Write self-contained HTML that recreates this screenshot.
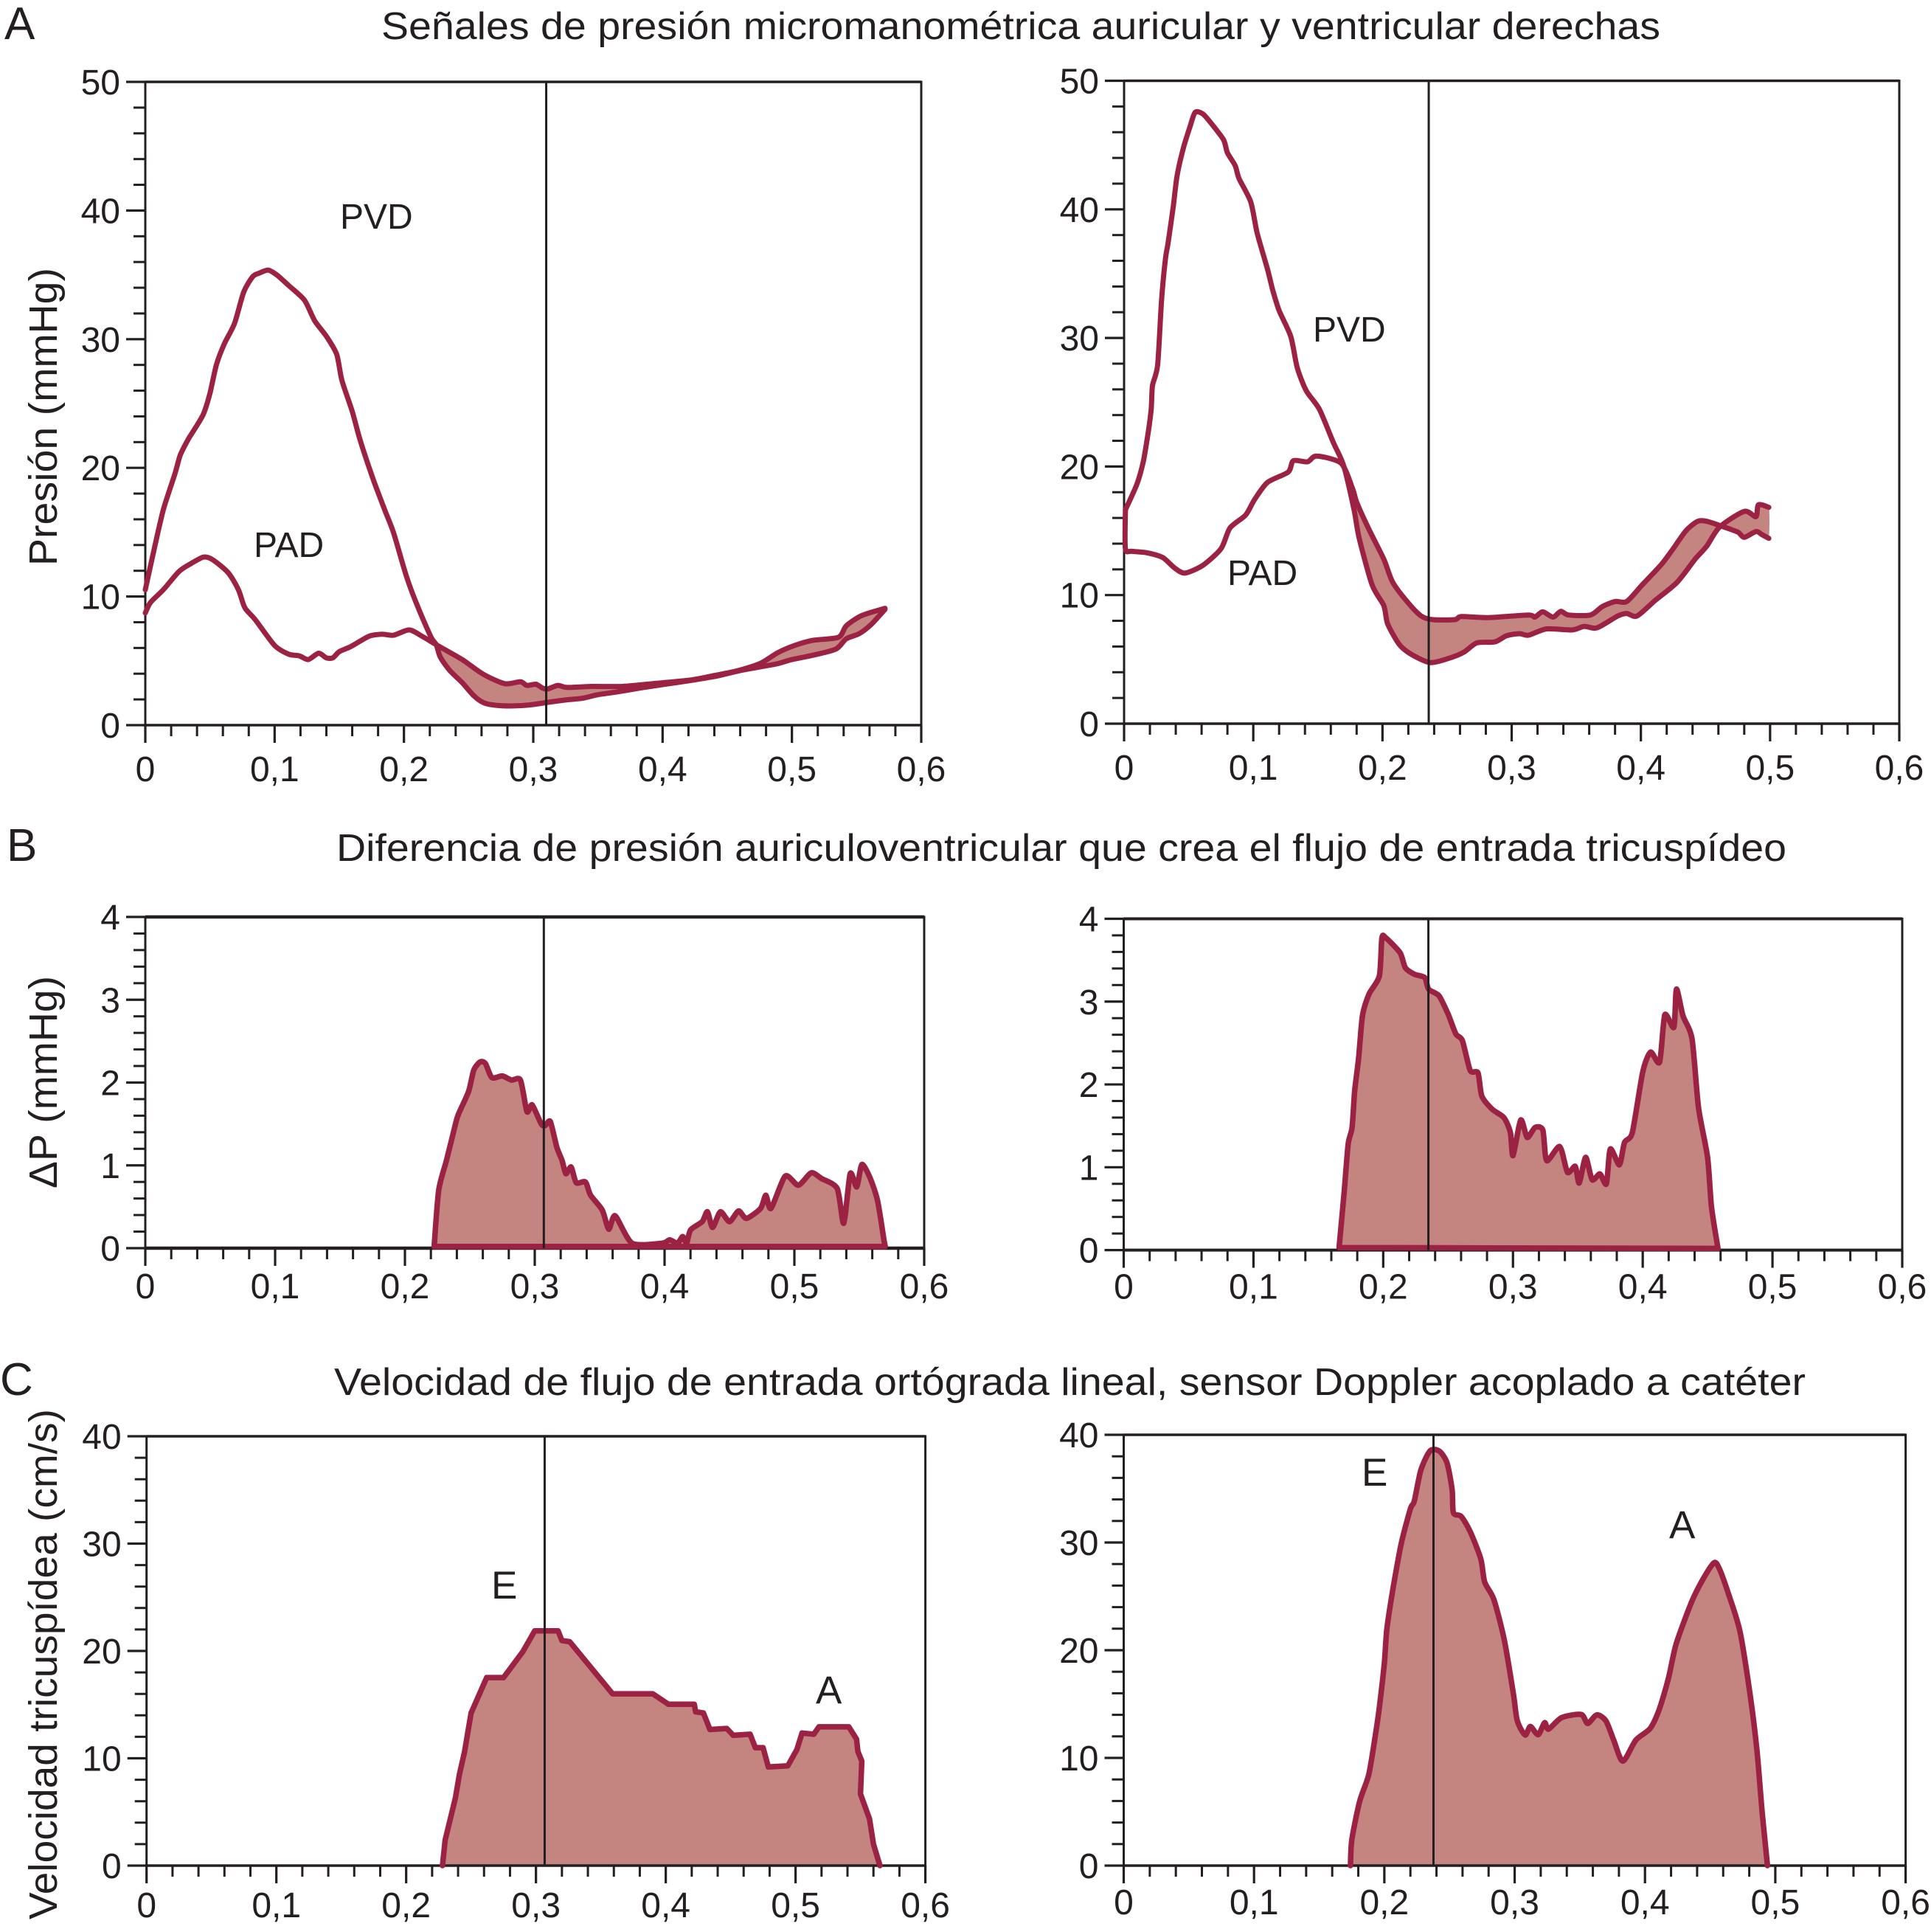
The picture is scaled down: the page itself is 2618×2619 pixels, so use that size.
<!DOCTYPE html>
<html lang="es">
<head>
<meta charset="utf-8">
<title>Señales de presión y flujo tricuspídeo</title>
<style>
html,body{margin:0;padding:0;background:#fff;}
svg{display:block;position:absolute;left:0;top:0;}
text{font-family:"Liberation Sans",Arial,sans-serif;fill:#231f20;}
</style>
</head>
<body>
<svg id="figure" xmlns="http://www.w3.org/2000/svg" width="2618" height="2619" viewBox="0 0 2618 2619">
<rect x="0" y="0" width="2618" height="2619" fill="#ffffff"/>
<g id="panels"></g>
<text x="6" y="53" font-size="62">A</text>
<text x="9" y="1167" font-size="62">B</text>
<text x="0" y="1891" font-size="62">C</text>
<text x="517" y="53" font-size="52" textLength="1734" lengthAdjust="spacingAndGlyphs">Señales de presión micromanométrica auricular y ventricular derechas</text>
<text x="456" y="1167" font-size="52" textLength="1966" lengthAdjust="spacingAndGlyphs">Diferencia de presión auriculoventricular que crea el flujo de entrada tricuspídeo</text>
<text x="453" y="1891" font-size="52" textLength="1995" lengthAdjust="spacingAndGlyphs">Velocidad de flujo de entrada ortógrada lineal, sensor Doppler acoplado a catéter</text>
<text transform="translate(77,565) rotate(-90)" text-anchor="middle" font-size="54" textLength="404" lengthAdjust="spacingAndGlyphs">Presión (mmHg)</text>
<text transform="translate(77,1467) rotate(-90)" text-anchor="middle" font-size="54" textLength="288" lengthAdjust="spacingAndGlyphs">ΔP (mmHg)</text>
<text transform="translate(77,2256) rotate(-90)" text-anchor="middle" font-size="54" textLength="692" lengthAdjust="spacingAndGlyphs">Velocidad tricuspídea (cm/s)</text>
<text x="461" y="310" font-size="48">PVD</text>
<text x="344" y="755" font-size="48">PAD</text>
<text x="1780" y="463" font-size="48">PVD</text>
<text x="1664" y="793" font-size="48">PAD</text>
<text x="666" y="2167" font-size="53">E</text>
<text x="1106" y="2309" font-size="53">A</text>
<text x="1846" y="2014" font-size="53">E</text>
<text x="2263" y="2085" font-size="53">A</text>
</svg>
<script>
const xTickValues = [0, 0.1, 0.2, 0.3, 0.4, 0.5, 0.6];
const xTickLabels = ['0', '0,1', '0,2', '0,3', '0,4', '0,5', '0,6'];
const pressureTicks = [0, 10, 20, 30, 40, 50];
const deltaTicks = [0, 1, 2, 3, 4];
const velocityTicks = [0, 10, 20, 30, 40];

const aLeftPvd = [[0,10.53],[.007,13.75],[.014,16.76],[.023,19.57],[.027,20.98],[.033,22.19],[.038,22.99],[.045,24.2],[.05,25.8],[.055,28.01],[.061,29.62],[.069,31.23],[.076,33.64],[.083,34.85],[.088,35.13],[.095,35.37],[.102,34.97],[.111,34.16],[.123,33.04],[.131,31.43],[.14,30.23],[.148,28.82],[.152,26.81],[.16,24.4],[.166,22.19],[.176,19.17],[.185,16.76],[.192,14.95],[.202,11.54],[.211,9.12],[.221,6.83],[.225,6.25],[.228,5.31],[.235,4.3],[.245,3.3],[.254,2.29],[.261,1.77],[.269,1.57],[.283,1.49],[.297,1.57],[.311,1.77],[.326,1.97],[.338,2.09],[.35,2.37],[.364,2.57],[.383,2.89],[.402,3.18],[.421,3.46],[.44,3.78],[.459,4.22],[.476,4.54],[.489,4.78],[.5,5.1],[.516,5.43],[.534,5.91],[.542,6.71],[.552,7.11],[.561,7.8],[.572,9]];
const aLeftPad = [[0,8.72],[.004,9.53],[.014,10.53],[.026,11.94],[.035,12.54],[.045,13.06],[.052,12.86],[.064,11.86],[.072,10.53],[.077,9.12],[.085,8.2],[.1,6.19],[.111,5.51],[.119,5.39],[.126,5.1],[.134,5.59],[.14,5.23],[.145,5.23],[.15,5.71],[.159,6.11],[.173,6.91],[.183,7.07],[.192,6.99],[.204,7.4],[.214,6.91],[.226,6.19],[.245,5.1],[.261,3.98],[.278,3.22],[.29,3.38],[.295,3.09],[.302,3.18],[.307,2.89],[.311,2.81],[.319,3.09],[.326,2.93],[.345,3.01],[.369,3.01],[.392,3.22],[.421,3.5],[.44,3.86],[.459,4.26],[.476,4.82],[.489,5.63],[.502,6.19],[.516,6.59],[.536,6.83],[.542,7.72],[.554,8.52],[.572,9.08]];
const aRightPvd = [[.001,16.63],[.01,18.64],[.015,20.45],[.019,22.87],[.021,24.48],[.022,26.29],[.026,27.9],[.029,32.93],[.032,36.15],[.034,37.36],[.038,40.18],[.041,42.59],[.046,44.81],[.051,46.42],[.055,47.54],[.061,47.42],[.068,46.62],[.077,45.41],[.08,44.4],[.086,43.4],[.089,42.39],[.098,40.58],[.103,38.16],[.111,35.35],[.115,33.74],[.12,32.13],[.129,30.11],[.134,27.7],[.141,25.89],[.151,24.48],[.162,21.86],[.17,20.05],[.178,16.63],[.182,14.41],[.192,10.79],[.201,9.18],[.204,7.77],[.213,6.16],[.223,5.35],[.237,4.75],[.251,5.07],[.263,5.56],[.273,6.28],[.287,6.36],[.296,6.84],[.306,7],[.313,6.88],[.327,7.37],[.347,7.29],[.356,7.57],[.366,7.45],[.382,8.37],[.389,8.57],[.397,8.37],[.411,9.58],[.428,10.99],[.442,12.8],[.451,13.81],[.461,15.3],[.48,16.51],[.489,16.1],[.491,17.03],[.499,16.83]];
const aRightPad = [[.001,16.63],[.001,13.61],[.006,13.41],[.018,13.29],[.03,12.92],[.039,12.12],[.047,11.71],[.061,12.32],[.075,13.61],[.082,15.22],[.094,16.22],[.101,17.43],[.111,18.76],[.127,19.57],[.131,20.45],[.142,20.37],[.149,20.81],[.168,20.25],[.177,18.24],[.18,17.23],[.189,15.22],[.201,12.8],[.208,10.99],[.22,9.38],[.23,8.37],[.239,8.09],[.256,8.09],[.261,8.33],[.282,8.25],[.313,8.45],[.318,8.29],[.324,8.7],[.332,8.29],[.338,8.74],[.344,8.45],[.361,8.45],[.37,9.1],[.38,9.5],[.389,9.5],[.401,10.79],[.416,12.4],[.425,13.61],[.435,15.02],[.444,15.74],[.451,15.74],[.463,15.34],[.475,14.9],[.48,14.49],[.489,14.94],[.494,14.69],[.499,14.41]];
const bLeftDelta = [[.2225,.02],[.226,.7],[.232,1.06],[.238,1.44],[.241,1.61],[.249,1.89],[.253,2.15],[.258,2.25],[.262,2.23],[.267,2.06],[.275,2.08],[.282,2.03],[.289,2.03],[.294,1.65],[.298,1.73],[.305,1.5],[.308,1.48],[.312,1.53],[.317,1.22],[.321,1.06],[.324,.9],[.328,.98],[.332,.79],[.339,.8],[.343,.64],[.352,.46],[.357,.23],[.362,.39],[.375,.06],[.398,.06],[.404,.1],[.41,.06],[.414,.14],[.417,.06],[.42,.22],[.429,.32],[.433,.44],[.437,.25],[.443,.44],[.45,.32],[.457,.45],[.463,.36],[.474,.48],[.478,.64],[.482,.48],[.493,.87],[.503,.76],[.513,.91],[.521,.84],[.533,.72],[.538,.3],[.543,.9],[.548,.74],[.552,1.01],[.558,.86],[.564,.58],[.569,.1],[.57,.02]];
const bRightDelta = [[.166,.03],[.17,.72],[.173,1.28],[.176,1.48],[.178,1.92],[.181,2.31],[.184,2.83],[.189,3.09],[.197,3.31],[.199,3.77],[.202,3.77],[.213,3.59],[.217,3.41],[.224,3.33],[.232,3.29],[.235,3.15],[.243,3.07],[.25,2.85],[.256,2.61],[.261,2.53],[.267,2.17],[.273,2.14],[.276,1.86],[.284,1.7],[.293,1.6],[.298,1.42],[.3,1.14],[.306,1.57],[.311,1.36],[.317,1.48],[.323,1.45],[.326,1.08],[.336,1.25],[.342,.94],[.348,1.01],[.351,.81],[.356,1.12],[.361,.85],[.367,.92],[.372,.8],[.375,1.22],[.382,1.03],[.386,1.3],[.392,1.42],[.4,2.15],[.406,2.39],[.413,2.27],[.417,2.84],[.424,2.69],[.426,3.15],[.431,2.83],[.438,2.55],[.443,1.72],[.45,1.12],[.453,.52],[.458,.02]];
const cLeftVelocity = [[.228,0],[.23,2.37],[.238,6.32],[.241,8.47],[.245,10.63],[.25,14.22],[.262,17.52],[.275,17.52],[.29,19.96],[.299,21.87],[.317,21.87],[.32,20.97],[.326,20.86],[.359,16.01],[.39,16.01],[.402,15.04],[.422,15.04],[.423,14.33],[.429,14.22],[.434,12.68],[.447,12.78],[.452,12.14],[.465,12.24],[.469,10.99],[.475,10.99],[.479,9.19],[.494,9.3],[.501,10.81],[.505,12.35],[.514,12.24],[.518,12.93],[.541,12.93],[.547,11.78],[.548,10.63],[.551,9.73],[.55,6.68],[.557,4.34],[.56,2.01],[.565,0]];
const cRightVelocity = [[.174,0],[.175,2.36],[.181,5.94],[.188,8.44],[.193,12.02],[.196,14.53],[.2,18.82],[.202,22.04],[.207,25.97],[.213,29.91],[.22,33.13],[.223,33.85],[.228,36.71],[.235,38.5],[.242,38.5],[.248,37.42],[.252,34.92],[.253,32.77],[.259,32.42],[.266,30.98],[.274,28.48],[.277,26.33],[.284,24.72],[.292,20.97],[.299,15.96],[.302,13.45],[.308,12.13],[.312,12.92],[.318,12.16],[.323,13.27],[.326,12.67],[.336,13.74],[.351,14.03],[.356,13.2],[.363,13.99],[.37,13.45],[.376,11.66],[.383,9.7],[.393,11.66],[.404,12.74],[.411,14.53],[.418,17.39],[.424,20.61],[.436,24.54],[.445,26.69],[.453,28.12],[.457,27.59],[.464,25.26],[.473,21.68],[.481,15.6],[.486,10.59],[.49,4.87],[.494,0]];

const aLeftMarkerTime = 0.31;
const aRightMarkerTime = 0.2358;
const bLeftMarkerTime = 0.307;
const bRightMarkerTime = 0.2348;
const cLeftMarkerTime = 0.3067;
const cRightMarkerTime = 0.2377;
const aLeftBandStart = 0.224;
const aRightBandStart = 0.168;

const SVG_NS = 'http://www.w3.org/2000/svg';
const root = document.getElementById('panels');
const LINE_RED = '#9b2242';
const FILL_RED = '#c48480';
const INK = '#231f20';

function make(parent, tag, attrs) {
  const el = document.createElementNS(SVG_NS, tag);
  for (const k in attrs) el.setAttribute(k, attrs[k]);
  parent.appendChild(el);
  return el;
}

function axes(box, yMax) {
  return {
    x: t => box.x0 + (t / 0.6) * (box.x1 - box.x0),
    y: v => box.y0 - (v / yMax) * (box.y0 - box.yTop)
  };
}

function pathFrom(points, sc, close, smooth) {
  const p = points.map(q => [sc.x(q[0]), sc.y(q[1])]);
  let d = 'M' + p[0][0].toFixed(1) + ' ' + p[0][1].toFixed(1);
  for (let i = 0; i < p.length - 1; i++) {
    const a = p[Math.max(i - 1, 0)], b = p[i], c = p[i + 1], e = p[Math.min(i + 2, p.length - 1)];
    const c1x = b[0] + (c[0] - a[0]) * smooth, c1y = b[1] + (c[1] - a[1]) * smooth;
    const c2x = c[0] - (e[0] - b[0]) * smooth, c2y = c[1] - (e[1] - b[1]) * smooth;
    d += ' C' + c1x.toFixed(1) + ' ' + c1y.toFixed(1) + ' ' + c2x.toFixed(1) + ' ' + c2y.toFixed(1) + ' ' + c[0].toFixed(1) + ' ' + c[1].toFixed(1);
  }
  return close ? d + ' Z' : d;
}

function drawFrame(g, box, sc, yTicks) {
  const sw = box.axisWidth;
  const frame = make(g, 'rect', {x: box.x0, y: box.yTop, width: box.x1 - box.x0, height: box.y0 - box.yTop, fill: 'none', stroke: INK, 'stroke-width': 3});
  
  
  const top = make(g, 'line', {x1: box.x0, x2: box.x1, y1: box.yTop, y2: box.yTop, stroke: INK, 'stroke-width': sw});
  
  
  const bottom = make(g, 'line', {x1: box.x0, x2: box.x1, y1: box.y0, y2: box.y0, stroke: INK, 'stroke-width': sw});
  
  

  xTickValues.forEach((t, i) => {
    const px = sc.x(t);
    const tick = make(g, 'line', {x1: px, x2: px, y1: box.y0, y2: box.y0 + 24, stroke: INK, 'stroke-width': 3.2});
    
    
    const label = make(g, 'text', {x: px, y: box.y0 + box.xLabelDy, 'font-size': 48, 'text-anchor': 'middle'});
    
    
    label.textContent = xTickLabels[i];
    if (i < xTickValues.length - 1) {
      for (let m = 1; m < 5; m++) {
        const mpx = sc.x(t + (xTickValues[i + 1] - t) * m / 5);
        const minor = make(g, 'line', {x1: mpx, x2: mpx, y1: box.y0, y2: box.y0 + 15, stroke: INK, 'stroke-width': 3});
        
        
      }
    }
  });

  yTicks.forEach((v, i) => {
    const py = sc.y(v);
    const tick = make(g, 'line', {x1: box.x0 - 26, x2: box.x0, y1: py, y2: py, stroke: INK, 'stroke-width': 3.2});
    
    
    const label = make(g, 'text', {x: box.x0 - 34, y: py + 17, 'font-size': 48, 'text-anchor': 'end'});
    
    
    label.textContent = String(v);
    if (i < yTicks.length - 1) {
      for (let m = 1; m < 5; m++) {
        const mpy = sc.y(v + (yTicks[i + 1] - v) * m / 5);
        const minor = make(g, 'line', {x1: box.x0 - 16, x2: box.x0, y1: mpy, y2: mpy, stroke: INK, 'stroke-width': 3});
        
        
      }
    }
  });
}

function drawMarker(g, box, sc, t) {
  const px = sc.x(t);
  const marker = make(g, 'line', {x1: px, x2: px, y1: box.yTop, y2: box.y0, stroke: INK, 'stroke-width': 3});
  
  
}

function drawPressurePanel(name, box, pvd, pad, bandStart, markerTime) {
  const g = make(root, 'g', {});
  
  
  const sc = axes(box, 50);
  const lower = pvd.filter(p => p[0] >= bandStart);
  const upper = pad.filter(p => p[0] >= bandStart).reverse();
  const band = make(g, 'path', {d: pathFrom(lower.concat(upper), sc, true, 0.1), fill: FILL_RED, stroke: 'none'});
  
  
  drawFrame(g, box, sc, pressureTicks);
  const pvdLine = make(g, 'path', {d: pathFrom(pvd, sc, false, 0.13), fill: 'none', stroke: LINE_RED, 'stroke-width': 7, 'stroke-linejoin': 'round', 'stroke-linecap': 'round'});
  
  
  const padLine = make(g, 'path', {d: pathFrom(pad, sc, false, 0.13), fill: 'none', stroke: LINE_RED, 'stroke-width': 7, 'stroke-linejoin': 'round', 'stroke-linecap': 'round'});
  
  
  drawMarker(g, box, sc, markerTime);
}

function drawAreaPanel(name, box, series, yMax, yTicks, markerTime, closedStroke, smooth) {
  const g = make(root, 'g', {});
  
  
  const sc = axes(box, yMax);
  const area = make(g, 'path', {d: pathFrom(series, sc, true, smooth), fill: FILL_RED, stroke: 'none'});
  
  
  drawFrame(g, box, sc, yTicks);
  const outline = make(g, 'path', {d: pathFrom(series, sc, closedStroke, smooth), fill: 'none', stroke: LINE_RED, 'stroke-width': 7.5, 'stroke-linejoin': 'round', 'stroke-linecap': 'round'});
  
  
  drawMarker(g, box, sc, markerTime);
}

drawPressurePanel('chart-a-left', {x0: 197, x1: 1249, yTop: 111, y0: 983, axisWidth: 3.5, xLabelDy: 76}, aLeftPvd, aLeftPad, aLeftBandStart, aLeftMarkerTime);
drawPressurePanel('chart-a-right', {x0: 1524, x1: 2575, yTop: 109.5, y0: 981, axisWidth: 3.5, xLabelDy: 76}, aRightPvd, aRightPad, aRightBandStart, aRightMarkerTime);
drawAreaPanel('chart-b-left', {x0: 197, x1: 1253, yTop: 1243, y0: 1692, axisWidth: 4.5, xLabelDy: 68}, bLeftDelta, 4, deltaTicks, bLeftMarkerTime, true, 0.12);
drawAreaPanel('chart-b-right', {x0: 1523.5, x1: 2579, yTop: 1245.5, y0: 1694.6, axisWidth: 4, xLabelDy: 66}, bRightDelta, 4, deltaTicks, bRightMarkerTime, true, 0.12);
drawAreaPanel('chart-c-left', {x0: 198.7, x1: 1254.6, yTop: 1947, y0: 2529, axisWidth: 3.5, xLabelDy: 70}, cLeftVelocity, 40, velocityTicks, cLeftMarkerTime, false, 0);
drawAreaPanel('chart-c-right', {x0: 1523.5, x1: 2583.6, yTop: 1945, y0: 2529, axisWidth: 3.5, xLabelDy: 66}, cRightVelocity, 40, velocityTicks, cRightMarkerTime, false, 0.13);
</script>
</body>
</html>
